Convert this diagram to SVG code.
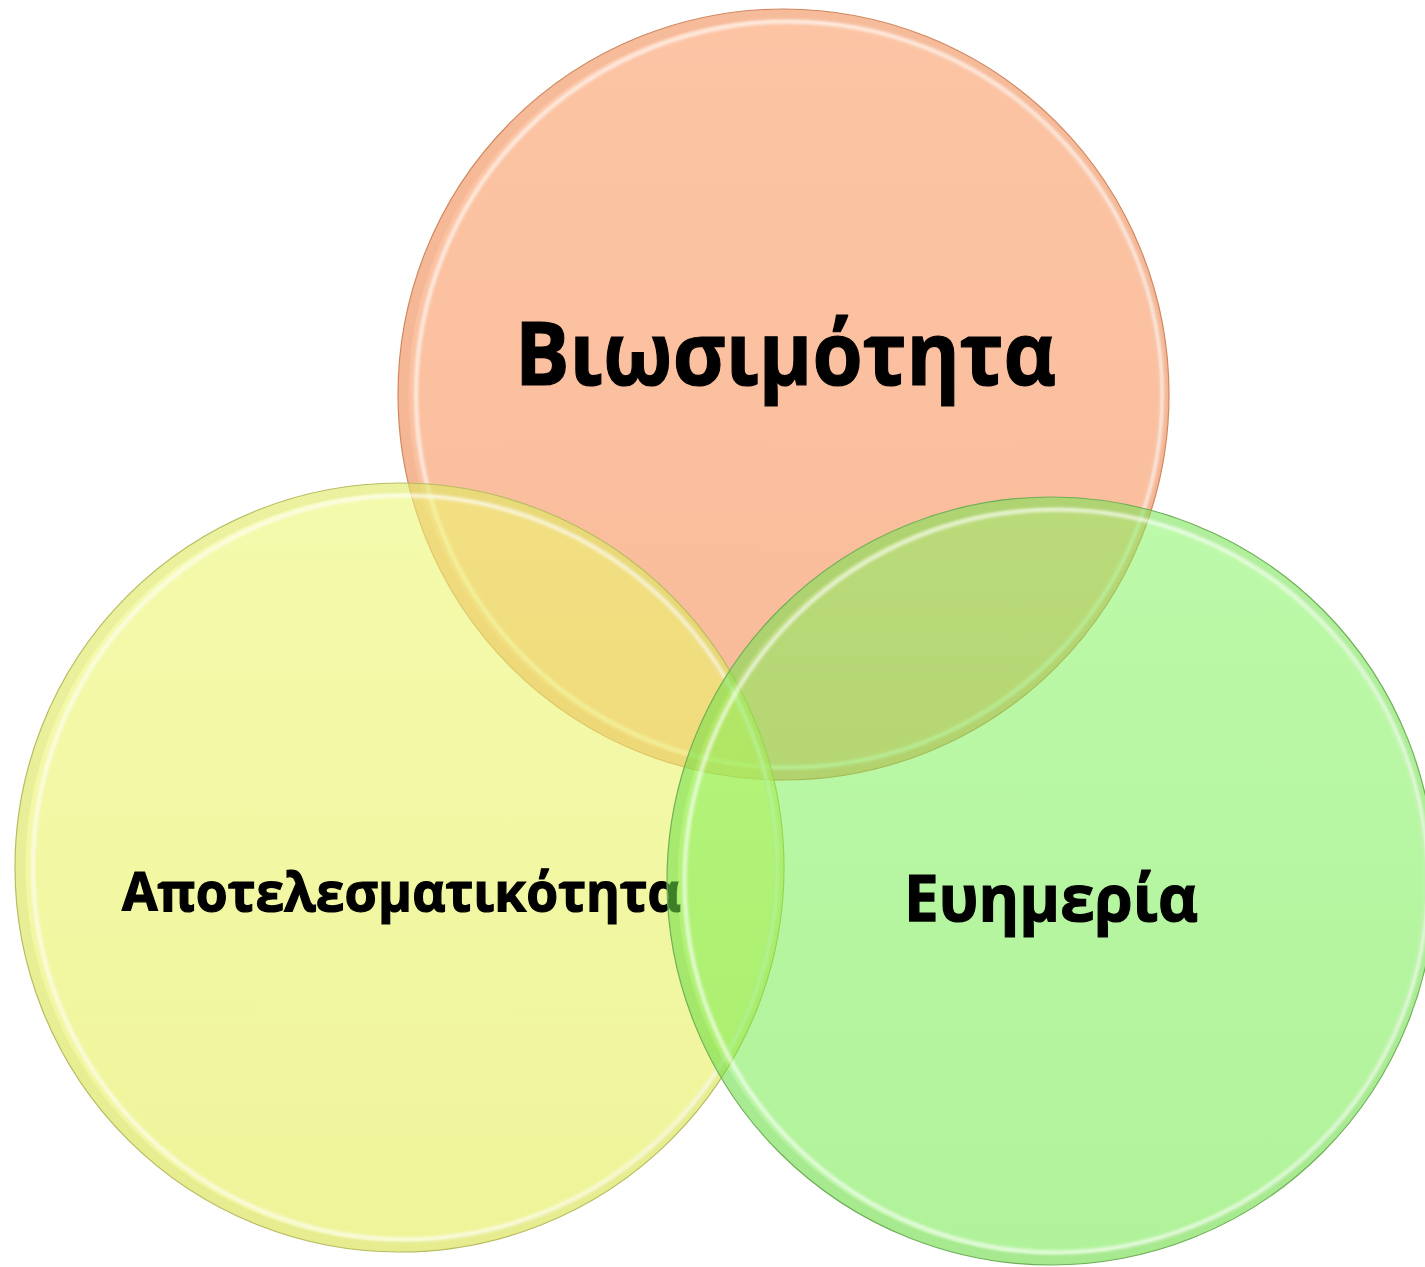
<svg xmlns="http://www.w3.org/2000/svg" width="1425" height="1267" viewBox="0 0 1425 1267">
  <style>
    .lbl { font-family: "Open Sans", "Noto Sans", "DejaVu Sans", sans-serif; font-weight: bold; fill: #000; stroke: #000; stroke-width: 1.2; }
    .rim { fill: none; stroke: #ffffff; stroke-opacity: 0.7; stroke-width: 4; filter: url(#soft); }
    .band { fill: none; stroke-opacity: 0.1; stroke-width: 10; }
  </style>
  <defs>
    <filter id="soft" x="-5%" y="-5%" width="110%" height="110%">
      <feGaussianBlur stdDeviation="1.5"/>
    </filter>
    <linearGradient id="gO" x1="0" y1="0" x2="0" y2="1">
      <stop offset="0" stop-color="#fa9a62"/>
      <stop offset="1" stop-color="#f48a50"/>
    </linearGradient>
    <linearGradient id="gY" x1="0" y1="0" x2="0" y2="1">
      <stop offset="0" stop-color="#ecf770"/>
      <stop offset="1" stop-color="#e3ec50"/>
    </linearGradient>
    <linearGradient id="gG" x1="0" y1="0" x2="0" y2="1">
      <stop offset="0" stop-color="#80f45a"/>
      <stop offset="1" stop-color="#68e63c"/>
    </linearGradient>
  </defs>

  <g id="node-viosimotita">
    <circle cx="783.5" cy="394.5" r="385.5" fill="url(#gO)" fill-opacity="0.58" stroke="#d08860" stroke-width="1.2"/>
    <circle cx="783.5" cy="394.5" r="380" class="band" stroke="#c07040"/>
    <circle cx="789" cy="394.5" r="373" class="rim"/>
    <text class="lbl" x="515" y="385" font-size="88" textLength="541" lengthAdjust="spacingAndGlyphs">Βιωσιμότητα</text>
  </g>

  <g id="node-apotelesmatikotita">
    <circle cx="399.5" cy="867.5" r="384.5" fill="url(#gY)" fill-opacity="0.58" stroke="#b8bc60" stroke-width="1.2"/>
    <circle cx="399.5" cy="867.5" r="379" class="band" stroke="#a0a830"/>
    <circle cx="405" cy="867.5" r="372" class="rim"/>
    <text class="lbl" x="122" y="911" font-size="53" textLength="559" lengthAdjust="spacingAndGlyphs">Αποτελεσματικότητα</text>
  </g>

  <g id="node-evimeria">
    <circle cx="1051" cy="881" r="384" fill="url(#gG)" fill-opacity="0.52" stroke="#70b058" stroke-width="1.2"/>
    <circle cx="1051" cy="881" r="378.5" class="band" stroke="#50a030"/>
    <circle cx="1056" cy="881" r="371.5" class="rim"/>
    <text class="lbl" x="904" y="921" font-size="64" textLength="294" lengthAdjust="spacingAndGlyphs">Ευημερία</text>
  </g>

  <g id="connectors"></g>
</svg>
